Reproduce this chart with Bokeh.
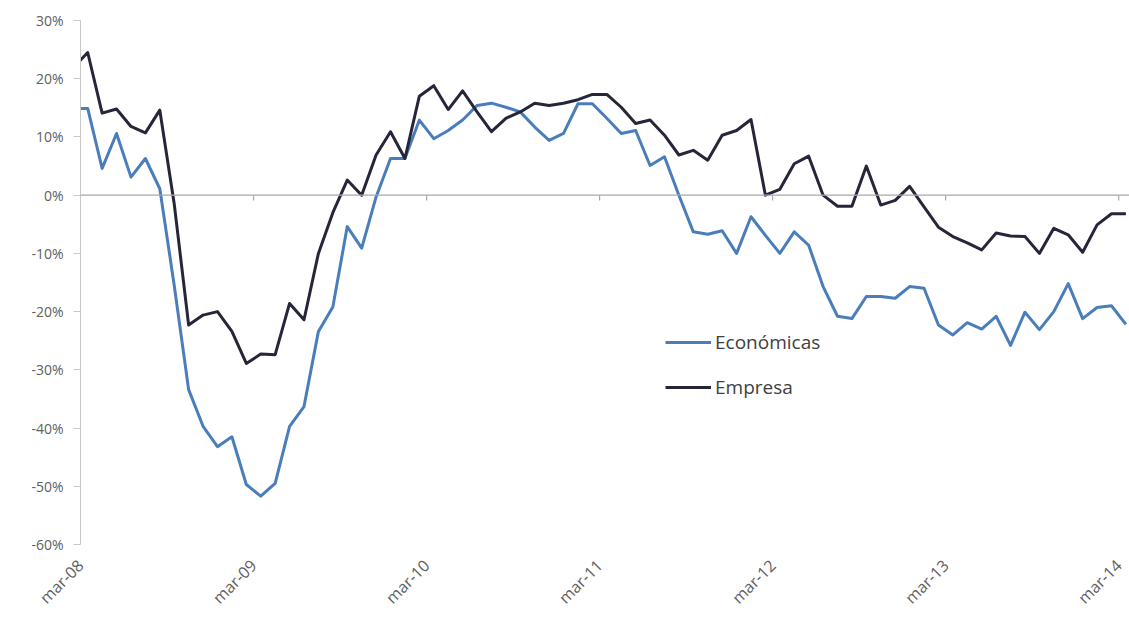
from bokeh.plotting import figure
from bokeh.models import Range1d, FixedTicker, PrintfTickFormatter, LinearAxis, Legend, LegendItem, Span
from bokeh.embed import file_html
from bokeh.resources import INLINE
import math

# Monthly series, feb-08 (partly outside the frame) .. mar-14, in %
economicas = [14.9,
              14.9, 4.6, 10.6, 3.1, 6.3, 1.1, -15.5, -33.4, -39.7, -43.2, -41.5, -49.7,
              -51.7, -49.5, -39.7, -36.3, -23.4, -19.2, -5.4, -9.1, -0.3, 6.3, 6.3, 12.9,
              9.7, 11.1, 12.9, 15.4, 15.8, 15.1, 14.3, 11.7, 9.4, 10.6, 15.7, 15.7,
              13.2, 10.6, 11.1, 5.1, 6.6, 0.0, -6.3, -6.7, -6.1, -10.0, -3.7, -6.9,
              -10.0, -6.3, -8.6, -15.7, -20.8, -21.2, -17.4, -17.4, -17.7, -15.7, -16.0, -22.3,
              -24.0, -21.9, -23.0, -20.8, -25.8, -20.1, -23.1, -20.0, -15.2, -21.2, -19.3, -19.0,
              -22.2]

empresa = [21.9,
           24.5, 14.1, 14.8, 11.8, 10.7, 14.6, -1.5, -22.3, -20.6, -20.0, -23.4, -28.9,
           -27.3, -27.4, -18.6, -21.4, -10.0, -3.0, 2.6, 0.0, 6.9, 10.9, 6.3, 17.0,
           18.8, 14.7, 17.9, 14.3, 10.9, 13.2, 14.3, 15.8, 15.4, 15.8, 16.4, 17.3,
           17.3, 15.1, 12.3, 12.9, 10.3, 6.9, 7.7, 6.0, 10.3, 11.1, 13.0, 0.0,
           1.0, 5.4, 6.7, 0.0, -1.9, -1.9, 5.0, -1.7, -0.9, 1.5, -2.0, -5.5,
           -7.1, -8.2, -9.4, -6.5, -7.0, -7.1, -10.0, -5.7, -6.8, -9.8, -5.1, -3.2,
           -3.2]

tick_labels = ["mar-08", "mar-09", "mar-10", "mar-11", "mar-12", "mar-13", "mar-14"]
y_ticks = [30, 20, 10, 0, -10, -20, -30, -40, -50, -60]

# x positions: mid-month, months counted from mar-08
xs = [i - 0.5 for i in range(len(economicas))]
x_ticks = [12 * i for i in range(len(tick_labels))]

FONT = "Open Sans"

p = figure(width=1129, height=620, output_backend="svg", toolbar_location=None,
           x_range=Range1d(0, 72.75), y_range=Range1d(-60, 30),
           min_border_left=80, min_border_right=0, min_border_top=20, min_border_bottom=76,
           x_axis_location=None, y_axis_location=None)
p.outline_line_color = None
p.grid.visible = False
p.background_fill_color = "white"

# y axis
yax = LinearAxis(ticker=FixedTicker(ticks=y_ticks), formatter=PrintfTickFormatter(format="%d%%"))
yax.axis_line_color = "#c8c8c8"
yax.major_tick_line_color = "#c8c8c8"
yax.major_tick_out = 7
yax.major_tick_in = 0
yax.minor_tick_line_color = None
yax.major_label_text_font = FONT
yax.major_label_text_font_size = "14px"
yax.major_label_text_color = "#606060"
yax.major_label_standoff = 10
p.add_layout(yax, "left")

# x axis labels at the bottom
xax = LinearAxis(ticker=FixedTicker(ticks=x_ticks),
                 major_label_overrides={t: l for t, l in zip(x_ticks, tick_labels)})
xax.axis_line_color = None
xax.major_tick_line_color = None
xax.minor_tick_line_color = None
xax.major_label_orientation = math.pi / 4
xax.major_label_text_font = FONT
xax.major_label_text_font_size = "16px"
xax.major_label_text_color = "#606060"
xax.major_label_standoff = 12
p.add_layout(xax, "below")

# zero line with tick marks
p.add_layout(Span(location=0, dimension="width", line_color="#a8a8a8", line_width=1.2))
p.segment(x0=x_ticks[1:], x1=x_ticks[1:], y0=[0] * (len(x_ticks) - 1), y1=[-0.9] * (len(x_ticks) - 1),
          line_color="#a8a8a8", line_width=1.2)

r1 = p.line(xs, economicas, line_color="#4a7ebb", line_width=3, line_join="round")
r2 = p.line(xs, empresa, line_color="#26263a", line_width=3, line_join="round")

legend = Legend(items=[LegendItem(label="Económicas", renderers=[r1]),
                       LegendItem(label="Empresa", renderers=[r2])],
                location=(585, 144), orientation="vertical")
legend.border_line_color = None
legend.background_fill_alpha = 0
legend.padding = 0
legend.margin = 0
legend.spacing = 19
legend.glyph_width = 46
legend.glyph_height = 24
legend.label_height = 24
legend.label_standoff = 4
legend.label_text_font = FONT
legend.label_text_font_size = "19px"
legend.label_text_color = "#404040"
p.add_layout(legend, "center")

open("out.html", "w").write(file_html(p, INLINE))
